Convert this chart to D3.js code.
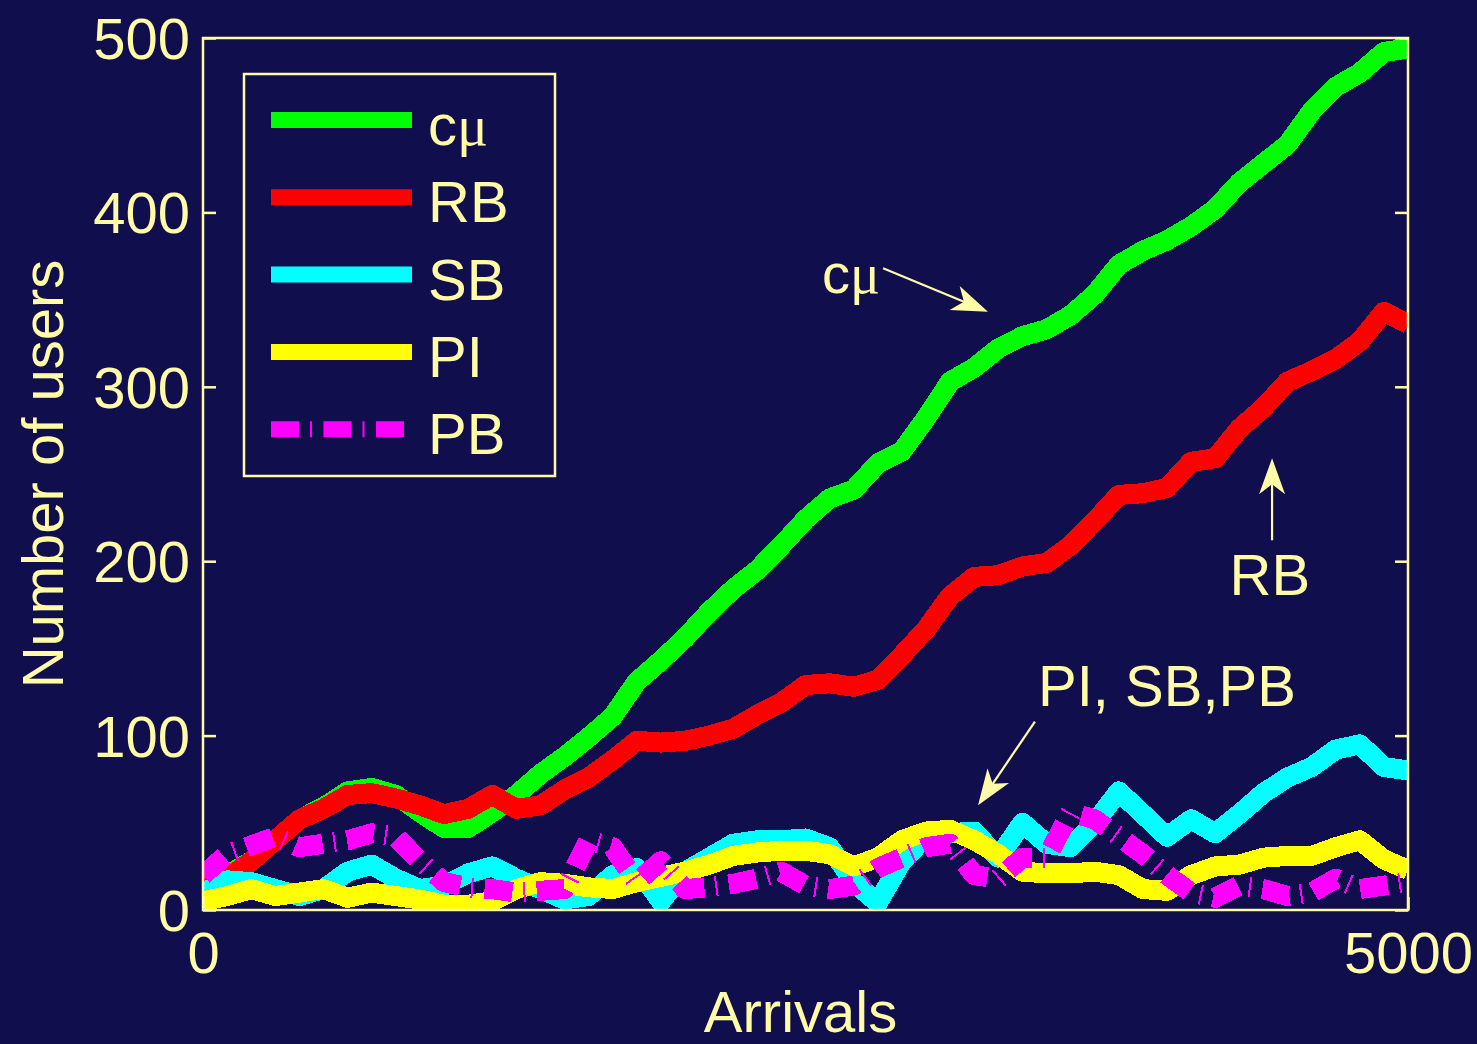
<!DOCTYPE html>
<html>
<head>
<meta charset="utf-8">
<script src="https://cdn.jsdelivr.net/npm/d3@7"></script>
<style>
  html, body { margin: 0; padding: 0; background: #110e4e; }
  svg { display: block; }
</style>
</head>
<body>
<svg id="chart" width="1477" height="1044"></svg>
<script>
// Number of users in the system versus arrivals, for five scheduling policies.
const arrivals = [0,100,200,300,400,500,600,700,800,900,1000,1100,1200,1300,1400,1500,1600,1700,1800,1900,
  2000,2100,2200,2300,2400,2500,2600,2700,2800,2900,3000,3100,3200,3300,3400,3500,3600,3700,3800,3900,
  4000,4100,4200,4300,4400,4500,4600,4700,4800,4900,5000];

const cmuUsers = [12,20,28,40,52,59,68,70,66,56,47,47,56,66,78,88,99,111,131,143,
  156,171,184,195,209,224,236,241,256,263,282,303,311,322,329,333,341,353,370,378,
  384,392,402,417,428,439,458,472,480,492,494];

const rbUsers = [12,18,28,40,52,58,66,67,64,60,55,58,66,58,60,69,76,86,97,96,
  97,100,104,112,119,129,130,128,132,146,161,180,191,192,197,199,209,223,238,239,
  242,257,259,276,288,303,309,316,326,343,336];

const sbUsers = [10,17,16,12,8,12,22,26,18,12,14,21,25,18,12,6,8,20,24,5,
  22,30,38,40,40,41,36,16,4,28,42,44,45,30,50,38,36,50,68,55,
  42,52,44,55,67,76,82,92,95,82,80];

const piUsers = [5,8,12,8,10,12,7,10,8,6,3,3,5,12,16,15,13,12,16,19,
  22,26,31,33,34,34,32,25,30,40,45,46,40,32,22,21,21,22,20,12,
  11,20,25,26,30,31,31,36,40,29,23];

const pbUsers = [20,32,37,42,36,38,40,44,42,28,16,13,12,10,11,12,40,36,16,28,
  12,13,15,18,22,14,12,14,24,30,36,38,20,18,30,30,56,52,42,32,
  20,10,7,14,12,8,10,18,12,14,16];

const seriesNames = ["c", "RB", "SB", "PI", "PB"];
const seriesColors = ["#00ff00", "#ff0000", "#00ffff", "#ffff00", "#ff00ff"];
const seriesDash = [null, null, null, null, "28,11,2,11.5"];
const seriesValues = [cmuUsers, rbUsers, sbUsers, piUsers, pbUsers];

const yTicks = [0, 100, 200, 300, 400, 500];
const xTicks = [0, 5000];

const fg = "#fffba6";
const sans = "'Liberation Sans', Arial, Helvetica, sans-serif";
const serif = "'Liberation Serif', 'Times New Roman', serif";
const fontSize = 58;

const svg = d3.select("#chart");

const x = d3.scaleLinear().domain([0, 5000]).range([203, 1408]);
const y = d3.scaleLinear().domain([0, 500]).range([910, 38]);

// clip lines to the axes box
svg.append("clipPath").attr("id", "plotClip")
  .append("rect")
  .attr("x", x(0)).attr("y", y(500))
  .attr("width", x(5000) - x(0)).attr("height", y(0) - y(500));

// series lines, drawn in plotting order
const line = d3.line()
  .x((d, i) => x(arrivals[i]))
  .y(d => y(d));

const gLines = svg.append("g").attr("clip-path", "url(#plotClip)");
seriesValues.forEach((vals, k) => {
  gLines.append("path")
    .datum(vals)
    .attr("d", line)
    .attr("fill", "none")
    .attr("stroke", seriesColors[k])
    .attr("stroke-width", 20)
    .attr("stroke-linejoin", "round")
    .attr("stroke-dasharray", seriesDash[k])
    .attr("shape-rendering", "crispEdges");
});

// axes
const gLeft = svg.append("g")
  .attr("transform", `translate(${x(0)},0)`)
  .call(d3.axisLeft(y).tickValues(yTicks).tickSize(-13).tickPadding(13).tickFormat(d3.format("d")));
const gRight = svg.append("g")
  .attr("transform", `translate(${x(5000)},0)`)
  .call(d3.axisRight(y).tickValues(yTicks).tickSize(-13).tickFormat(""));
const gBottom = svg.append("g")
  .attr("transform", `translate(0,${y(0)})`)
  .call(d3.axisBottom(x).tickValues(xTicks).tickSize(-13).tickPadding(22).tickFormat(d3.format("d")));

[gLeft, gRight, gBottom].forEach(g => {
  g.attr("font-family", sans).attr("font-size", fontSize);
  g.select(".domain").remove();
  g.selectAll(".tick line").attr("stroke", fg).attr("stroke-width", 2.5);
  g.selectAll(".tick text").attr("fill", fg);
});
gLeft.selectAll(".tick text").attr("dy", "0.355em");

// axes box
svg.append("rect")
  .attr("x", x(0)).attr("y", y(500))
  .attr("width", x(5000) - x(0)).attr("height", y(0) - y(500))
  .attr("fill", "none").attr("stroke", fg).attr("stroke-width", 2.5);

// axis titles
svg.append("text")
  .attr("x", (x(0) + x(5000)) / 2 - 5).attr("y", 1032)
  .attr("text-anchor", "middle")
  .attr("fill", fg).attr("font-family", sans).attr("font-size", fontSize)
  .text("Arrivals");

svg.append("text")
  .attr("transform", `translate(63,${(y(0) + y(500)) / 2}) rotate(-90)`)
  .attr("text-anchor", "middle")
  .attr("fill", fg).attr("font-family", sans).attr("font-size", fontSize)
  .text("Number of users");

// label with a serif mu for the c-mu rule
function policyLabel(sel, name) {
  sel.append("tspan").text(name);
  if (name === "c") {
    sel.append("tspan").attr("font-family", serif).text("\u03bc");
  }
}

// legend
const legend = svg.append("g");
legend.append("rect")
  .attr("x", 244).attr("y", 74).attr("width", 311).attr("height", 402)
  .attr("fill", "#110e4e").attr("stroke", fg).attr("stroke-width", 2.5);

seriesNames.forEach((name, k) => {
  const ly = 120 + k * 77.3;
  legend.append("line")
    .attr("x1", 271).attr("x2", 412).attr("y1", ly).attr("y2", ly)
    .attr("stroke", seriesColors[k]).attr("stroke-width", 16)
    .attr("stroke-dasharray", seriesDash[k]);
  legend.append("text")
    .attr("x", 428).attr("y", ly + 25)
    .attr("fill", fg).attr("font-family", sans).attr("font-size", fontSize)
    .call(policyLabel, name);
});

// annotations: text and arrows placed in data units
function arrow(a0, v0, a1, v1) {
  const x0 = x(a0), y0 = y(v0), x1 = x(a1), y1 = y(v1);
  const dx = x1 - x0, dy = y1 - y0, len = Math.hypot(dx, dy);
  const ux = dx / len, uy = dy / len, px = -uy, py = ux;
  const headLen = 36, halfW = 13, notch = 26;
  svg.append("line")
    .attr("x1", x0).attr("y1", y0)
    .attr("x2", x1 - ux * notch).attr("y2", y1 - uy * notch)
    .attr("stroke", fg).attr("stroke-width", 2.2);
  const pts = [
    [x1, y1],
    [x1 - ux * headLen + px * halfW, y1 - uy * headLen + py * halfW],
    [x1 - ux * notch, y1 - uy * notch],
    [x1 - ux * headLen - px * halfW, y1 - uy * headLen - py * halfW]
  ];
  svg.append("polygon")
    .attr("points", pts.map(p => p.join(",")).join(" "))
    .attr("fill", fg);
}

svg.append("text")
  .attr("x", x(2568)).attr("y", y(354))
  .attr("fill", fg).attr("font-family", sans).attr("font-size", 56)
  .call(policyLabel, "c");
arrow(2822, 368, 3257, 343);

svg.append("text")
  .attr("x", x(4427)).attr("y", y(180.6))
  .attr("text-anchor", "middle")
  .attr("fill", fg).attr("font-family", sans).attr("font-size", fontSize)
  .text("RB");
arrow(4436, 212, 4436, 259);

svg.append("text")
  .attr("x", x(3465)).attr("y", y(117))
  .attr("fill", fg).attr("font-family", sans).attr("font-size", fontSize)
  .text("PI, SB,PB");
arrow(3452, 108, 3216, 60);
</script>
</body>
</html>
